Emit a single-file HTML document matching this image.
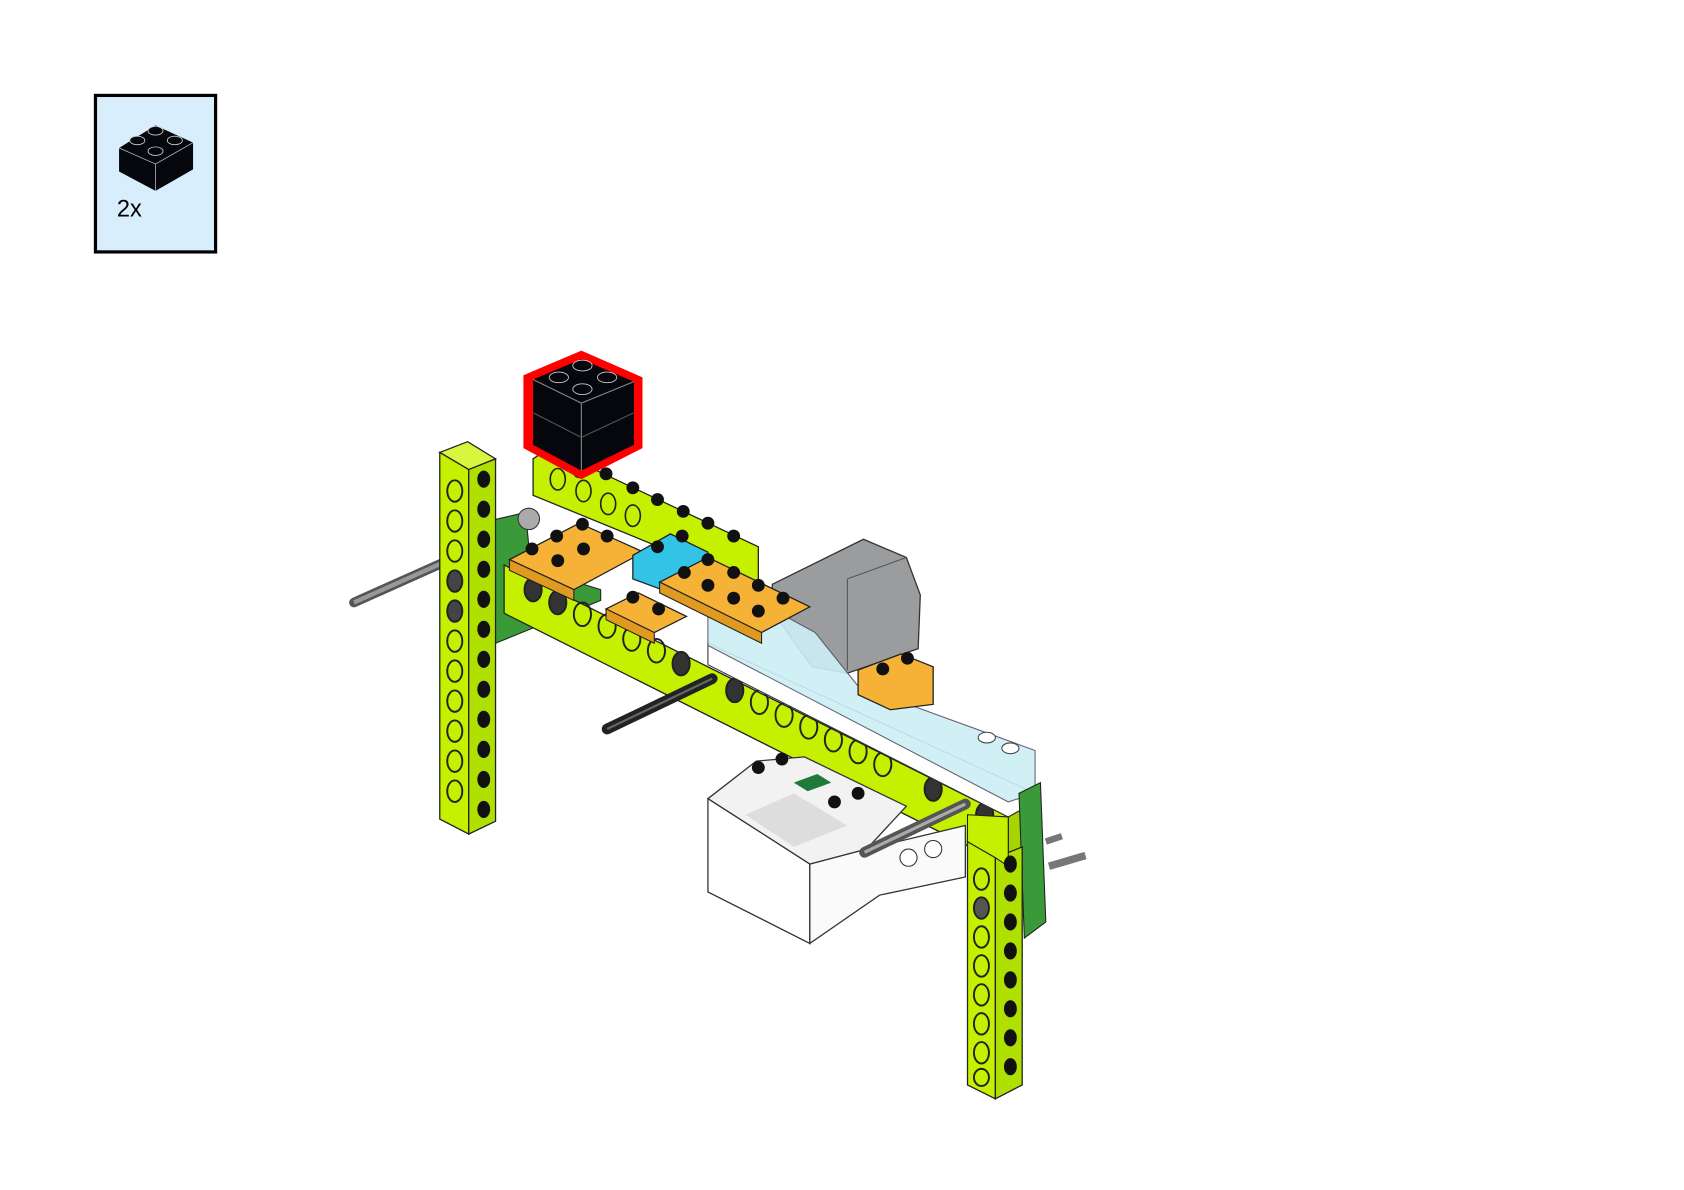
<!DOCTYPE html>
<html><head><meta charset="utf-8"><style>
html,body{margin:0;padding:0;background:#fff;width:1684px;height:1190px;overflow:hidden}
svg{display:block}
</style></head><body>
<svg width="1684" height="1190" viewBox="0 0 1570 1110" preserveAspectRatio="none" xmlns="http://www.w3.org/2000/svg">
<rect width="1570" height="1110" fill="#fff"/>
<!-- parts callout -->
<rect x="89" y="89" width="112" height="146" fill="#d8eefc" stroke="#000" stroke-width="3"/>
<polygon points="111,138 145,117 180,133 180,158 145,178 111,160" fill="#05070d"/>
<line x1="145" y1="153" x2="145" y2="178" stroke="#aaa" stroke-width="0.8"/>
<line x1="111" y1="138" x2="145" y2="153" stroke="#aaa" stroke-width="0.8"/>
<line x1="145" y1="153" x2="180" y2="133" stroke="#aaa" stroke-width="0.8"/>
<g fill="#05070d" stroke="#ccc" stroke-width="0.8">
<ellipse cx="128" cy="131" rx="7" ry="4"/><ellipse cx="145" cy="122" rx="7" ry="4"/><ellipse cx="163" cy="131" rx="7" ry="4"/><ellipse cx="145" cy="141" rx="7" ry="4"/></g>
<text x="109" y="202" font-family="Liberation Sans, sans-serif" font-size="22" fill="#000">2x</text>

<!-- axle left -->
<line x1="330" y1="562" x2="435" y2="515" stroke="#555" stroke-width="9" stroke-linecap="round"/>
<line x1="330" y1="562" x2="435" y2="515" stroke="#999" stroke-width="4"/>
<!-- green behind left -->
<polygon points="460,485 490,478 495,530 560,550 560,560 462,600" fill="#3a9a3a" stroke="#222" stroke-width="1"/>
<circle cx="493" cy="484" r="10" fill="#aaa" stroke="#333"/>
<!-- back beam -->
<polygon points="497,428 512,418 707,510 707,548 497,462" fill="#c5f000" stroke="#222" stroke-width="1.2"/>
<g fill="#111">
<circle cx="540" cy="440" r="6"/><circle cx="565" cy="442" r="6"/><circle cx="590" cy="455" r="6"/><circle cx="613" cy="466" r="6"/><circle cx="637" cy="477" r="6"/><circle cx="660" cy="488" r="6"/><circle cx="684" cy="500" r="6"/></g>
<g fill="none" stroke="#222" stroke-width="1.5">
<ellipse cx="520" cy="447" rx="7" ry="10"/><ellipse cx="544" cy="458" rx="7" ry="10"/><ellipse cx="567" cy="470" rx="7" ry="10"/><ellipse cx="590" cy="481" rx="7" ry="10"/></g>

<!-- motor -->
<polygon points="720,545 805,503 845,520 858,555 856,605 790,628 757,622 720,570" fill="#9a9c9e" stroke="#333" stroke-width="1.2"/>
<line x1="790" y1="540" x2="790" y2="625" stroke="#555"/>
<line x1="790" y1="540" x2="845" y2="520" stroke="#555"/>

<!-- long beam -->
<polygon points="470,527 940,762 940,808 470,572" fill="#c5f000" stroke="#222" stroke-width="1.2"/>
<polygon points="940,762 965,748 965,792 940,808" fill="#a8d400" stroke="#222" stroke-width="1.2"/>
<g fill="none" stroke="#222" stroke-width="1.8">
<ellipse cx="497" cy="550" rx="8" ry="11" fill="#333"/><ellipse cx="520" cy="562" rx="8" ry="11" fill="#333"/>
<ellipse cx="543" cy="573" rx="8" ry="11"/><ellipse cx="566" cy="584" rx="8" ry="11"/><ellipse cx="589" cy="596" rx="8" ry="11"/><ellipse cx="612" cy="607" rx="8" ry="11"/><ellipse cx="635" cy="619" rx="8" ry="11" fill="#333"/><ellipse cx="685" cy="644" rx="8" ry="11" fill="#333"/><ellipse cx="708" cy="655" rx="8" ry="11"/><ellipse cx="731" cy="667" rx="8" ry="11"/><ellipse cx="754" cy="678" rx="8" ry="11"/><ellipse cx="777" cy="690" rx="8" ry="11"/><ellipse cx="800" cy="701" rx="8" ry="11"/><ellipse cx="823" cy="713" rx="8" ry="11"/><ellipse cx="870" cy="736" rx="8" ry="11" fill="#333"/><ellipse cx="918" cy="760" rx="8" ry="11" fill="#333"/></g>

<!-- white strip + transparent bricks -->
<polygon points="660,600 965,740 965,748 940,762 660,620" fill="#fff" stroke="#333" stroke-width="1"/>
<polygon points="660,572 705,560 760,590 800,640 965,700 965,740 940,748 660,602" fill="#cdeff6" stroke="#556" stroke-width="1" opacity="0.9"/>
<g fill="#fff" stroke="#444"><ellipse cx="920" cy="688" rx="8" ry="5"/><ellipse cx="942" cy="698" rx="8" ry="5"/></g>

<!-- orange plates & blue brick -->
<polygon points="475,522 540,488 600,515 535,550" fill="#f5b236" stroke="#222" stroke-width="1.2"/>
<polygon points="475,522 535,550 535,560 475,532" fill="#e09a20" stroke="#222"/>
<polygon points="590,518 625,498 660,515 660,535 625,553 590,540" fill="#32c4e6" stroke="#222" stroke-width="1.2"/>
<polygon points="615,543 660,520 755,566 710,590" fill="#f5b236" stroke="#222" stroke-width="1.2"/>
<polygon points="615,543 710,590 710,600 615,553" fill="#e09a20" stroke="#222"/>
<polygon points="565,568 595,553 640,575 610,590" fill="#f5b236" stroke="#222" stroke-width="1.2"/>
<polygon points="565,568 610,590 610,600 565,578" fill="#e09a20" stroke="#222"/>
<polygon points="800,625 840,610 870,622 870,657 830,662 800,648" fill="#f5b236" stroke="#222" stroke-width="1.2"/>
<g fill="#111"><circle cx="519" cy="500" r="6"/><circle cx="543" cy="489" r="6"/><circle cx="566" cy="500" r="6"/><circle cx="496" cy="512" r="6"/><circle cx="520" cy="523" r="6"/><circle cx="544" cy="512" r="6"/>
<circle cx="613" cy="510" r="6"/><circle cx="636" cy="500" r="6"/>
<circle cx="660" cy="522" r="6"/><circle cx="638" cy="534" r="6"/><circle cx="660" cy="546" r="6"/><circle cx="684" cy="534" r="6"/><circle cx="707" cy="546" r="6"/><circle cx="684" cy="558" r="6"/><circle cx="730" cy="558" r="6"/><circle cx="707" cy="570" r="6"/>
<circle cx="590" cy="557" r="6"/><circle cx="614" cy="568" r="6"/>
<circle cx="823" cy="624" r="6"/><circle cx="846" cy="614" r="6"/></g>

<!-- black brick highlighted -->
<polygon points="488,350 542,327 599,352 599,418 542,447 488,418" fill="#f00"/>
<polygon points="497,354 542,335 591,356 591,415 542,439 497,415" fill="#05070d"/>
<line x1="542" y1="376" x2="542" y2="439" stroke="#888"/>
<line x1="497" y1="354" x2="542" y2="376" stroke="#888"/><line x1="542" y1="376" x2="591" y2="356" stroke="#888"/>
<line x1="497" y1="385" x2="542" y2="408" stroke="#555"/><line x1="542" y1="408" x2="591" y2="385" stroke="#555"/>
<g fill="#05070d" stroke="#ccc" stroke-width="0.8"><ellipse cx="521" cy="352" rx="9" ry="5"/><ellipse cx="543" cy="341" rx="9" ry="5"/><ellipse cx="566" cy="352" rx="9" ry="5"/><ellipse cx="543" cy="363" rx="9" ry="5"/></g>

<!-- left vertical beam -->
<polygon points="410,422 436,412 462,428 437,438" fill="#d8f540" stroke="#222" stroke-width="1.2"/>
<polygon points="410,422 437,438 437,778 410,764" fill="#c5f000" stroke="#222" stroke-width="1.2"/>
<polygon points="437,438 462,428 462,766 437,778" fill="#b0e000" stroke="#222" stroke-width="1.2"/>
<g fill="none" stroke="#222" stroke-width="1.8">
<ellipse cx="424" cy="458" rx="7" ry="10"/><ellipse cx="424" cy="486" rx="7" ry="10"/><ellipse cx="424" cy="514" rx="7" ry="10"/><ellipse cx="424" cy="542" rx="7" ry="10" fill="#444"/><ellipse cx="424" cy="570" rx="7" ry="10" fill="#444"/><ellipse cx="424" cy="598" rx="7" ry="10"/><ellipse cx="424" cy="626" rx="7" ry="10"/><ellipse cx="424" cy="654" rx="7" ry="10"/><ellipse cx="424" cy="682" rx="7" ry="10"/><ellipse cx="424" cy="710" rx="7" ry="10"/><ellipse cx="424" cy="738" rx="7" ry="10"/></g>
<g fill="#111"><ellipse cx="451" cy="447" rx="6" ry="8"/><ellipse cx="451" cy="475" rx="6" ry="8"/><ellipse cx="451" cy="503" rx="6" ry="8"/><ellipse cx="451" cy="531" rx="6" ry="8"/><ellipse cx="451" cy="559" rx="6" ry="8"/><ellipse cx="451" cy="587" rx="6" ry="8"/><ellipse cx="451" cy="615" rx="6" ry="8"/><ellipse cx="451" cy="643" rx="6" ry="8"/><ellipse cx="451" cy="671" rx="6" ry="8"/><ellipse cx="451" cy="699" rx="6" ry="8"/><ellipse cx="451" cy="727" rx="6" ry="8"/><ellipse cx="451" cy="755" rx="6" ry="8"/></g>

<!-- white hub -->
<polygon points="660,745 705,710 750,706 845,752 808,792 755,806" fill="#f2f2f2" stroke="#333" stroke-width="1.2"/>
<polygon points="660,745 755,806 755,880 660,832" fill="#fff" stroke="#333" stroke-width="1.2"/>
<polygon points="755,806 808,792 900,770 900,818 820,835 755,880" fill="#fafafa" stroke="#333" stroke-width="1.2"/>
<polygon points="740,730 762,722 775,730 753,738" fill="#1f7a3a"/>
<polygon points="695,760 740,740 790,770 740,790" fill="#ddd"/>
<g fill="#111"><circle cx="707" cy="716" r="6"/><circle cx="729" cy="708" r="6"/><circle cx="778" cy="748" r="6"/><circle cx="800" cy="740" r="6"/></g>
<g fill="#fff" stroke="#333"><circle cx="847" cy="800" r="8"/><circle cx="870" cy="792" r="8"/></g>

<!-- green right -->
<polygon points="950,740 970,730 975,860 955,875" fill="#3a9a3a" stroke="#222"/>
<line x1="978" y1="808" x2="1012" y2="798" stroke="#777" stroke-width="7"/>
<line x1="975" y1="785" x2="990" y2="780" stroke="#777" stroke-width="6"/>

<!-- axles -->
<line x1="566" y1="680" x2="664" y2="633" stroke="#222" stroke-width="10" stroke-linecap="round"/>
<line x1="566" y1="680" x2="664" y2="633" stroke="#666" stroke-width="2"/>
<line x1="806" y1="795" x2="900" y2="750" stroke="#555" stroke-width="10" stroke-linecap="round"/>
<line x1="806" y1="795" x2="900" y2="750" stroke="#aaa" stroke-width="3"/>

<!-- right vertical beam -->
<polygon points="902,785 928,800 928,1025 902,1012" fill="#c5f000" stroke="#222" stroke-width="1.2"/>
<polygon points="928,800 953,790 953,1012 928,1025" fill="#b0e000" stroke="#222" stroke-width="1.2"/>
<polygon points="902,760 940,762 940,808 928,800 902,785" fill="#c5f000" stroke="#222"/>
<g fill="none" stroke="#222" stroke-width="1.8">
<ellipse cx="915" cy="820" rx="7" ry="10"/><ellipse cx="915" cy="847" rx="7" ry="10" fill="#555"/><ellipse cx="915" cy="874" rx="7" ry="10"/><ellipse cx="915" cy="901" rx="7" ry="10"/><ellipse cx="915" cy="928" rx="7" ry="10"/><ellipse cx="915" cy="955" rx="7" ry="10"/><ellipse cx="915" cy="982" rx="7" ry="10"/><ellipse cx="915" cy="1005" rx="7" ry="8"/></g>
<g fill="#111"><ellipse cx="942" cy="806" rx="6" ry="8"/><ellipse cx="942" cy="833" rx="6" ry="8"/><ellipse cx="942" cy="860" rx="6" ry="8"/><ellipse cx="942" cy="887" rx="6" ry="8"/><ellipse cx="942" cy="914" rx="6" ry="8"/><ellipse cx="942" cy="941" rx="6" ry="8"/><ellipse cx="942" cy="968" rx="6" ry="8"/><ellipse cx="942" cy="995" rx="6" ry="8"/></g>
</svg>
</body></html>
